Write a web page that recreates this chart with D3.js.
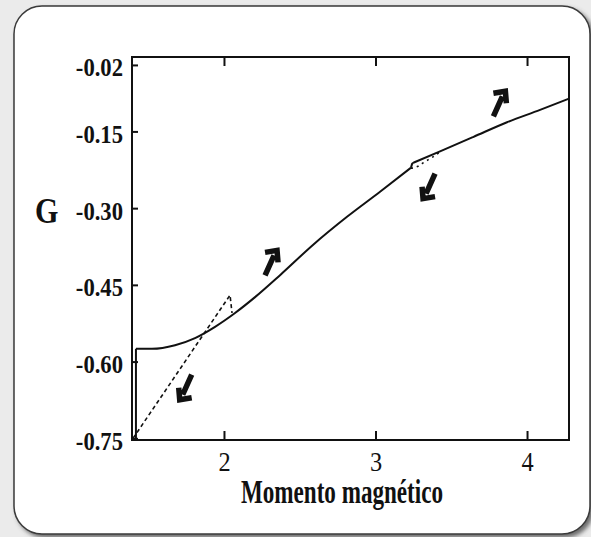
<!DOCTYPE html>
<html>
<head>
<meta charset="utf-8">
<script src="https://cdn.jsdelivr.net/npm/d3@7"></script>
<style>
body { margin: 0; background: #ebebeb; }
svg { display: block; }
text { font-family: "Liberation Serif", "Times New Roman", serif; fill: #111; }
</style>
</head>
<body>
<svg id="chart" width="591" height="537"></svg>
<script>
// axis ticks
var xTicks = [2, 3, 4];
var yTicks = [-0.02, -0.15, -0.30, -0.45, -0.60, -0.75];
var yTickLabels = ["-0.02", "-0.15", "-0.30", "-0.45", "-0.60", "-0.75"];
var xTitle = "Momento magnético";
var yTitle = "G";

// solid branch
var riserX = [1.419, 1.419];
var riserG = [-0.750, -0.575];
var lowerX = [1.419, 1.525, 1.677, 1.809, 1.941, 2.073, 2.205, 2.370, 2.587, 2.812, 3.030, 3.234];
var lowerG = [-0.575, -0.575, -0.568, -0.554, -0.532, -0.505, -0.474, -0.431, -0.372, -0.317, -0.268, -0.221];
var stepX = [3.234, 3.242, 3.248];
var stepG = [-0.221, -0.213, -0.2115];
var upperX = [3.248, 3.426, 3.644, 3.868, 4.086, 4.277];
var upperG = [-0.2115, -0.189, -0.161, -0.132, -0.108, -0.086];

// dashed branches
var dashLowX = [1.400, 2.040, 2.053];
var dashLowG = [-0.750, -0.470, -0.505];
var dashHighX = [3.234, 3.281, 3.327, 3.373, 3.426];
var dashHighG = [-0.222, -0.218, -0.209, -0.201, -0.190];

// arrows
var arrowX = [2.304, 1.754, 3.360, 3.811];
var arrowG = [-0.406, -0.651, -0.258, -0.095];
var arrowDir = ["up", "down", "down", "up"];

var svg = d3.select("#chart");

var defs = svg.append("defs");
var f = defs.append("filter").attr("id", "shadow").attr("x", "-5%").attr("y", "-5%").attr("width", "115%").attr("height", "115%");
f.append("feDropShadow").attr("dx", 3).attr("dy", 3).attr("stdDeviation", 2).attr("flood-color", "#555").attr("flood-opacity", 0.85);

// card
svg.append("rect")
	.attr("x", 14).attr("y", 6)
	.attr("width", 576).attr("height", 528)
	.attr("rx", 28).attr("ry", 28)
	.attr("fill", "#fff")
	.attr("stroke", "#3a3a3a")
	.attr("stroke-width", 1.5)
	.attr("filter", "url(#shadow)");

var x = d3.scaleLinear().domain([1.393, 4.277]).range([132, 569]);
var y = d3.scaleLinear().domain([-0.7533, -0.0045]).range([440, 57]);

function squeeze(sel, k) {
	sel.each(function () {
		var w = this.getComputedTextLength();
		d3.select(this).attr("textLength", w * k).attr("lengthAdjust", "spacingAndGlyphs");
	});
}

// left axis
var gLeft = svg.append("g")
	.attr("transform", "translate(132,0)")
	.call(d3.axisLeft(y).tickValues(yTicks)
		.tickFormat(function (d, i) { return yTickLabels[i]; })
		.tickSize(-6).tickSizeOuter(0).tickPadding(9));
gLeft.selectAll("text")
	.style("font-size", "26px").style("font-weight", "bold")
	.attr("dy", "0.42em");
squeeze(gLeft.selectAll("text"), 0.87);

// bottom axis
var gBottom = svg.append("g")
	.attr("transform", "translate(0,440)")
	.call(d3.axisBottom(x).tickValues(xTicks).tickFormat(d3.format("d"))
		.tickSize(-9).tickSizeOuter(0).tickPadding(11));
gBottom.selectAll("text").style("font-size", "28px");
squeeze(gBottom.selectAll("text"), 0.87);

// top axis, ticks only
svg.append("g")
	.attr("transform", "translate(0,57)")
	.call(d3.axisTop(x).tickValues(xTicks).tickFormat("")
		.tickSize(-9).tickSizeOuter(0));

svg.selectAll(".domain").remove();
svg.selectAll(".tick line").attr("stroke", "#111").attr("stroke-width", 2);

// frame
svg.append("rect")
	.attr("x", x.range()[0]).attr("y", y.range()[1])
	.attr("width", x.range()[1] - x.range()[0])
	.attr("height", y.range()[0] - y.range()[1])
	.attr("fill", "none")
	.attr("stroke", "#111")
	.attr("stroke-width", 2);

function pts(xs, gs) {
	return xs.map(function (v, i) { return [v, gs[i]]; });
}

var lineLin = d3.line().x(function (d) { return x(d[0]); }).y(function (d) { return y(d[1]); });
var lineSmooth = d3.line().x(function (d) { return x(d[0]); }).y(function (d) { return y(d[1]); }).curve(d3.curveMonotoneX);

function solid(d) {
	svg.append("path").attr("d", d)
		.attr("fill", "none").attr("stroke", "#111").attr("stroke-width", 2)
		.attr("stroke-linejoin", "round");
}
solid(lineLin(pts(riserX, riserG)));
solid(lineSmooth(pts(lowerX, lowerG)));
solid(lineLin(pts(stepX, stepG)));
solid(lineSmooth(pts(upperX, upperG)));

svg.append("path").attr("d", lineLin(pts(dashLowX, dashLowG)))
	.attr("fill", "none").attr("stroke", "#111").attr("stroke-width", 1.6)
	.attr("stroke-dasharray", "4,3");
svg.append("path").attr("d", lineSmooth(pts(dashHighX, dashHighG)))
	.attr("fill", "none").attr("stroke", "#111").attr("stroke-width", 1.6)
	.attr("stroke-dasharray", "2,4");

// arrows, drawn pointing up-right then flipped for down-left
var arrowShape = "M-5,13 L4,-7 M-5,-10 L7,-12 L8,0";
svg.selectAll("path.arrow")
	.data(arrowX)
	.enter().append("path")
	.attr("class", "arrow")
	.attr("d", arrowShape)
	.attr("transform", function (d, i) {
		return "translate(" + x(d) + "," + y(arrowG[i]) + ")" + (arrowDir[i] == "down" ? " rotate(180)" : "");
	})
	.attr("fill", "none")
	.attr("stroke", "#111")
	.attr("stroke-width", 5.5)
	.attr("stroke-linejoin", "miter")
	.attr("stroke-linecap", "butt");

// titles
var gt = svg.append("text")
	.attr("x", 35).attr("y", 223)
	.style("font-size", "35px").style("font-weight", "bold")
	.text(yTitle);
squeeze(gt, 0.86);

svg.append("text")
	.attr("x", 342).attr("y", 503)
	.attr("text-anchor", "middle")
	.style("font-size", "33px").style("font-weight", "bold")
	.attr("textLength", 202).attr("lengthAdjust", "spacingAndGlyphs")
	.text(xTitle);
</script>
</body>
</html>
